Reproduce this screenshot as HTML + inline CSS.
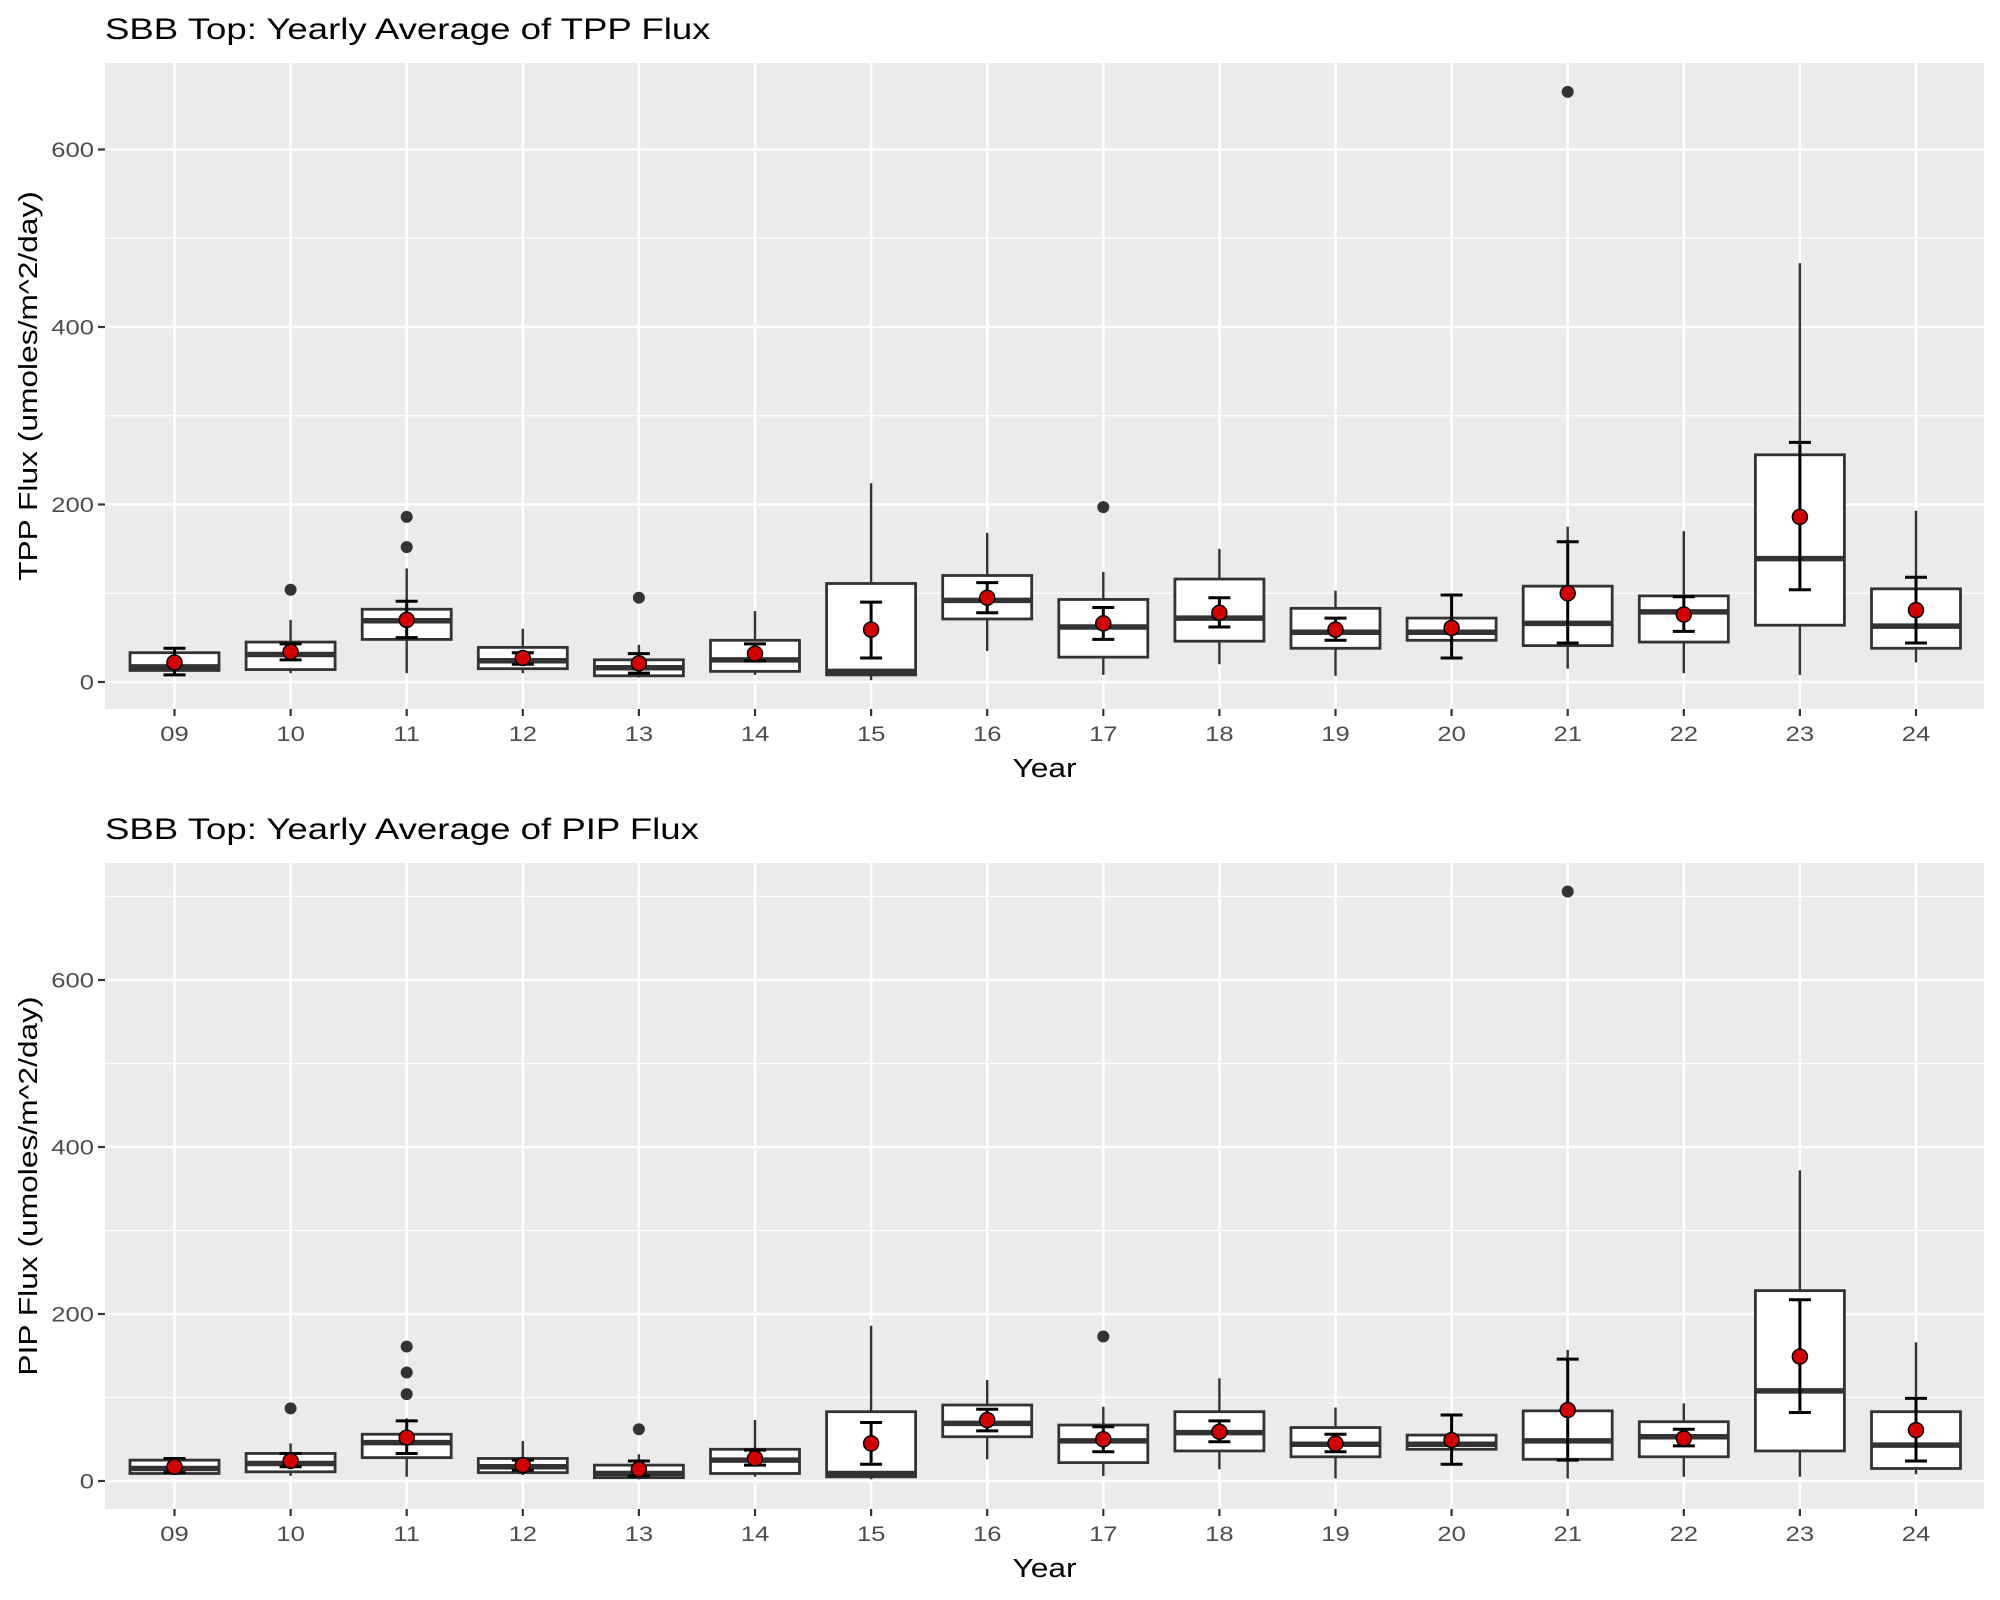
<!DOCTYPE html>
<html><head><meta charset="utf-8"><style>
html,body{margin:0;padding:0;background:#fff;}
svg{display:block;font-family:"Liberation Sans",Arial,sans-serif;}
</style></head><body>
<svg id="chart" width="2000" height="1600" viewBox="0 0 2000 1600" xmlns="http://www.w3.org/2000/svg"></svg>
<script>
const years = ["09","10","11","12","13","14","15","16","17","18","19","20","21","22","23","24"];
// TPP: [whiskerLo, q1, median, q3, whiskerHi]
const tppBox = [[8,13,17,33,38],[10,14,31,45,70],[10,48,69,82,128],[10,15,24,39,60],[5,7,16,25,42],[8,12,25,47,80],[2,8,12,111,224],[35,71,92,120,168],[8,28,62,93,124],[20,46,72,116,150],[7,38,56,83,103],[30,47,56,72,95],[15,41,66,108,175],[10,45,79,97,170],[8,64,139,256,472],[22,38,63,105,193]];
const tppMean = [22,34,70,27,21,32,59,95,66,78,59,61,100,76,186,81];
const tppCiLo = [8,25,50,20,10,24,27,78,48,62,47,27,44,57,104,44];
const tppCiHi = [38,43,91,33,32,43,90,112,84,95,72,98,158,96,270,118];
const tppOutliers = [[],[104],[152,186],[],[95],[],[],[],[197],[],[],[],[665],[],[],[]];
const pipBox = [[8,9,15,25,27],[6,11,21,33,45],[5,28,46,56,75],[7,10,17,27,48],[2,4,9,19,32],[5,9,25,38,73],[2,5,9,83,186],[26,53,69,91,121],[6,22,48,67,89],[14,36,58,83,123],[3,29,44,64,88],[22,38,44,55,78],[3,26,48,84,157],[5,29,53,71,93],[5,36,108,228,372],[8,15,43,83,166]];
const pipMean = [17,24,52,19,14,27,45,73,50,59,45,49,85,51,149,61];
const pipCiLo = [10,17,33,13,6,19,20,60,35,47,35,20,25,42,82,24];
const pipCiHi = [27,33,72,25,24,37,70,86,65,72,56,79,146,62,217,99];
const pipOutliers = [[],[87],[104,130,161],[],[62],[],[],[],[173],[],[],[],[706],[],[],[]];
const yTicks = [0,200,400,600];
const yMinor = [100,300,500,700];

const NS="http://www.w3.org/2000/svg";
const svg=document.getElementById('chart');
const SX=1.22;
function mk(tag,attrs,parent){const e=document.createElementNS(NS,tag);for(const k in attrs)e.setAttribute(k,attrs[k]);(parent||svg).appendChild(e);return e;}
function txt(parent,x,y,str,size,anchor,fill,rot){
  const t=mk('text',{x:0,y:0,'text-anchor':anchor,'font-size':size,fill:fill,
    transform:`translate(${x} ${y})`+(rot?` rotate(${rot})`:'')+` scale(${SX} 1)`},parent);
  t.textContent=str;return t;
}

function panel(cfg){
  const g=mk('g',{});
  
  
  const L=105,R=1984,T=cfg.top,B=cfg.bottom;
  const x=i=>174.5+i*116.1;
  const y=v=>cfg.zeroY-v*cfg.pxPer;
  const bg=mk('rect',{x:L,y:T,width:R-L,height:B-T,fill:'#ebebeb'},g);
  
  
  yMinor.forEach(v=>{const yy=y(v);if(yy>T&&yy<B){const l=mk('line',{x1:L,x2:R,y1:yy,y2:yy,stroke:'#fff','stroke-width':1.3},g);}});
  yTicks.forEach(v=>{const yy=y(v);
    const l=mk('line',{x1:L,x2:R,y1:yy,y2:yy,stroke:'#fff','stroke-width':2.6},g);
    
    
    mk('line',{x1:L-7,x2:L,y1:yy,y2:yy,stroke:'#333','stroke-width':2.2},g);
    const t=txt(g,L-11,yy+7.5,String(v),21,'end','#4d4d4d');
    
    
  });
  years.forEach((yr,i)=>{const xx=x(i);
    const l=mk('line',{x1:xx,x2:xx,y1:T,y2:B,stroke:'#fff','stroke-width':2.6},g);
    
    
    mk('line',{x1:xx,x2:xx,y1:B,y2:B+7,stroke:'#333','stroke-width':2.2},g);
    const t=txt(g,xx,B+32,yr,21,'middle','#4d4d4d');
    
    
  });
  const hw=44.5;
  cfg.box.forEach((b,i)=>{const xx=x(i);
    const bx=mk('g',{},g);
    
    
    mk('line',{x1:xx,x2:xx,y1:y(b[0]),y2:y(b[1]),stroke:'#333','stroke-width':2.4},bx);
    mk('line',{x1:xx,x2:xx,y1:y(b[3]),y2:y(b[4]),stroke:'#333','stroke-width':2.4},bx);
    mk('rect',{x:xx-hw,y:y(b[3]),width:2*hw,height:y(b[1])-y(b[3]),fill:'#fff',stroke:'#333','stroke-width':2.8},bx);
    mk('line',{x1:xx-hw,x2:xx+hw,y1:y(b[2]),y2:y(b[2]),stroke:'#333','stroke-width':5.5},bx);
    cfg.out[i].forEach(o=>{const c=mk('circle',{cx:xx,cy:y(o),r:6,fill:'#333'},bx);
      
      });
    const eb=mk('g',{stroke:'#000','stroke-width':3},bx);
    
    
    mk('line',{x1:xx,x2:xx,y1:y(cfg.lo[i]),y2:y(cfg.hi[i])},eb);
    mk('line',{x1:xx-11,x2:xx+11,y1:y(cfg.lo[i]),y2:y(cfg.lo[i])},eb);
    mk('line',{x1:xx-11,x2:xx+11,y1:y(cfg.hi[i]),y2:y(cfg.hi[i])},eb);
    const m=mk('circle',{cx:xx,cy:y(cfg.mean[i]),r:7.5,fill:'#d40000',stroke:'#000','stroke-width':1.5},bx);
    
    
  });
  const tt=txt(g,L,cfg.titleY,cfg.title,30,'start','#000');
  
  
  const xt=txt(g,(L+R)/2,cfg.xTitleY,'Year',26,'middle','#000');
  
  
  const cy=(T+B)/2;
  const yt=txt(g,37,cy,cfg.ytitle,26,'middle','#000',-90);
  
  
}
panel({name:'tpp-panel',top:63,bottom:709,zeroY:682,pxPer:0.8875,titleY:39,xTitleY:777,title:'SBB Top: Yearly Average of TPP Flux',ytitle:'TPP Flux (umoles/m^2/day)',box:tppBox,mean:tppMean,lo:tppCiLo,hi:tppCiHi,out:tppOutliers});
panel({name:'pip-panel',top:863,bottom:1509,zeroY:1481,pxPer:0.835,titleY:839,xTitleY:1577,title:'SBB Top: Yearly Average of PIP Flux',ytitle:'PIP Flux (umoles/m^2/day)',box:pipBox,mean:pipMean,lo:pipCiLo,hi:pipCiHi,out:pipOutliers});
</script>
</body></html>
